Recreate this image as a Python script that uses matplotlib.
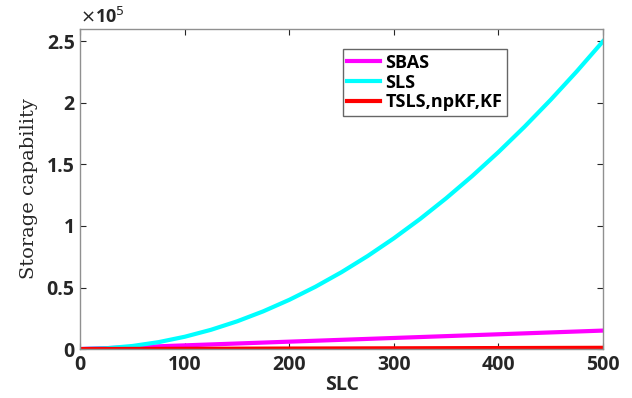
import matplotlib
matplotlib.use("Agg")
from matplotlib import pyplot as plt

# values
slc = [0, 25, 50, 75, 100, 125, 150, 175, 200, 225, 250, 275, 300, 325, 350,
       375, 400, 425, 450, 475, 500]
sbas = [0, 750, 1500, 2250, 3000, 3750, 4500, 5250, 6000, 6750, 7500, 8250,
        9000, 9750, 10500, 11250, 12000, 12750, 13500, 14250, 15000]
sls = [0, 625, 2500, 5625, 10000, 15625, 22500, 30625, 40000, 50625, 62500,
       75625, 90000, 105625, 122500, 140625, 160000, 180625, 202500, 225625,
       250000]
tsls = [0, 50, 100, 150, 200, 250, 300, 350, 400, 450, 500, 550, 600, 650,
        700, 750, 800, 850, 900, 950, 1000]

plt.rcParams['font.family'] = ['Open Sans', 'DejaVu Sans']

fig = plt.figure(figsize=(6.32, 3.98), dpi=100)
ax = fig.add_axes([0.127, 0.123, 0.827, 0.804])

ax.plot(slc, sbas, color='#ff00ff', lw=3, label='SBAS')
ax.plot(slc, sls, color='#00ffff', lw=3, label='SLS')
ax.plot(slc, tsls, color='#ff0000', lw=3, label='TSLS,npKF,KF')

ax.set_xlim(0, 500)
ax.set_ylim(0, 2.6e5)
ax.set_xticks([0, 100, 200, 300, 400, 500])
ax.set_yticks([0, 0.5e5, 1e5, 1.5e5, 2e5, 2.5e5])
ax.set_yticklabels(['0', '0.5', '1', '1.5', '2', '2.5'])
ax.text(0, 1.005, r'$\times$10$^5$', transform=ax.transAxes, fontsize=13,
        fontweight='bold', color='#262626', va='bottom')

ax.tick_params(direction='in', top=True, right=True, labelsize=14,
               colors='#262626', length=4, pad=4)
for lab in ax.get_xticklabels() + ax.get_yticklabels():
    lab.set_fontweight('bold')
for sp in ax.spines.values():
    sp.set_color('#909090')
    sp.set_linewidth(1)

ax.set_xlabel('SLC', fontsize=14, fontweight='bold', color='#262626', labelpad=0)
ax.set_ylabel('Storage capability', fontsize=14, family='DejaVu Serif',
              color='#262626', labelpad=6)

leg = ax.legend(loc='upper left', bbox_to_anchor=(0.485, 0.965), frameon=True,
                fancybox=False, edgecolor='#404040', handlelength=1.8,
                handletextpad=0.3, borderpad=0.25, labelspacing=0.1,
                prop={'weight': 'bold', 'size': 13})
leg.get_frame().set_linewidth(1)

fig.savefig('out.png', dpi=100)
